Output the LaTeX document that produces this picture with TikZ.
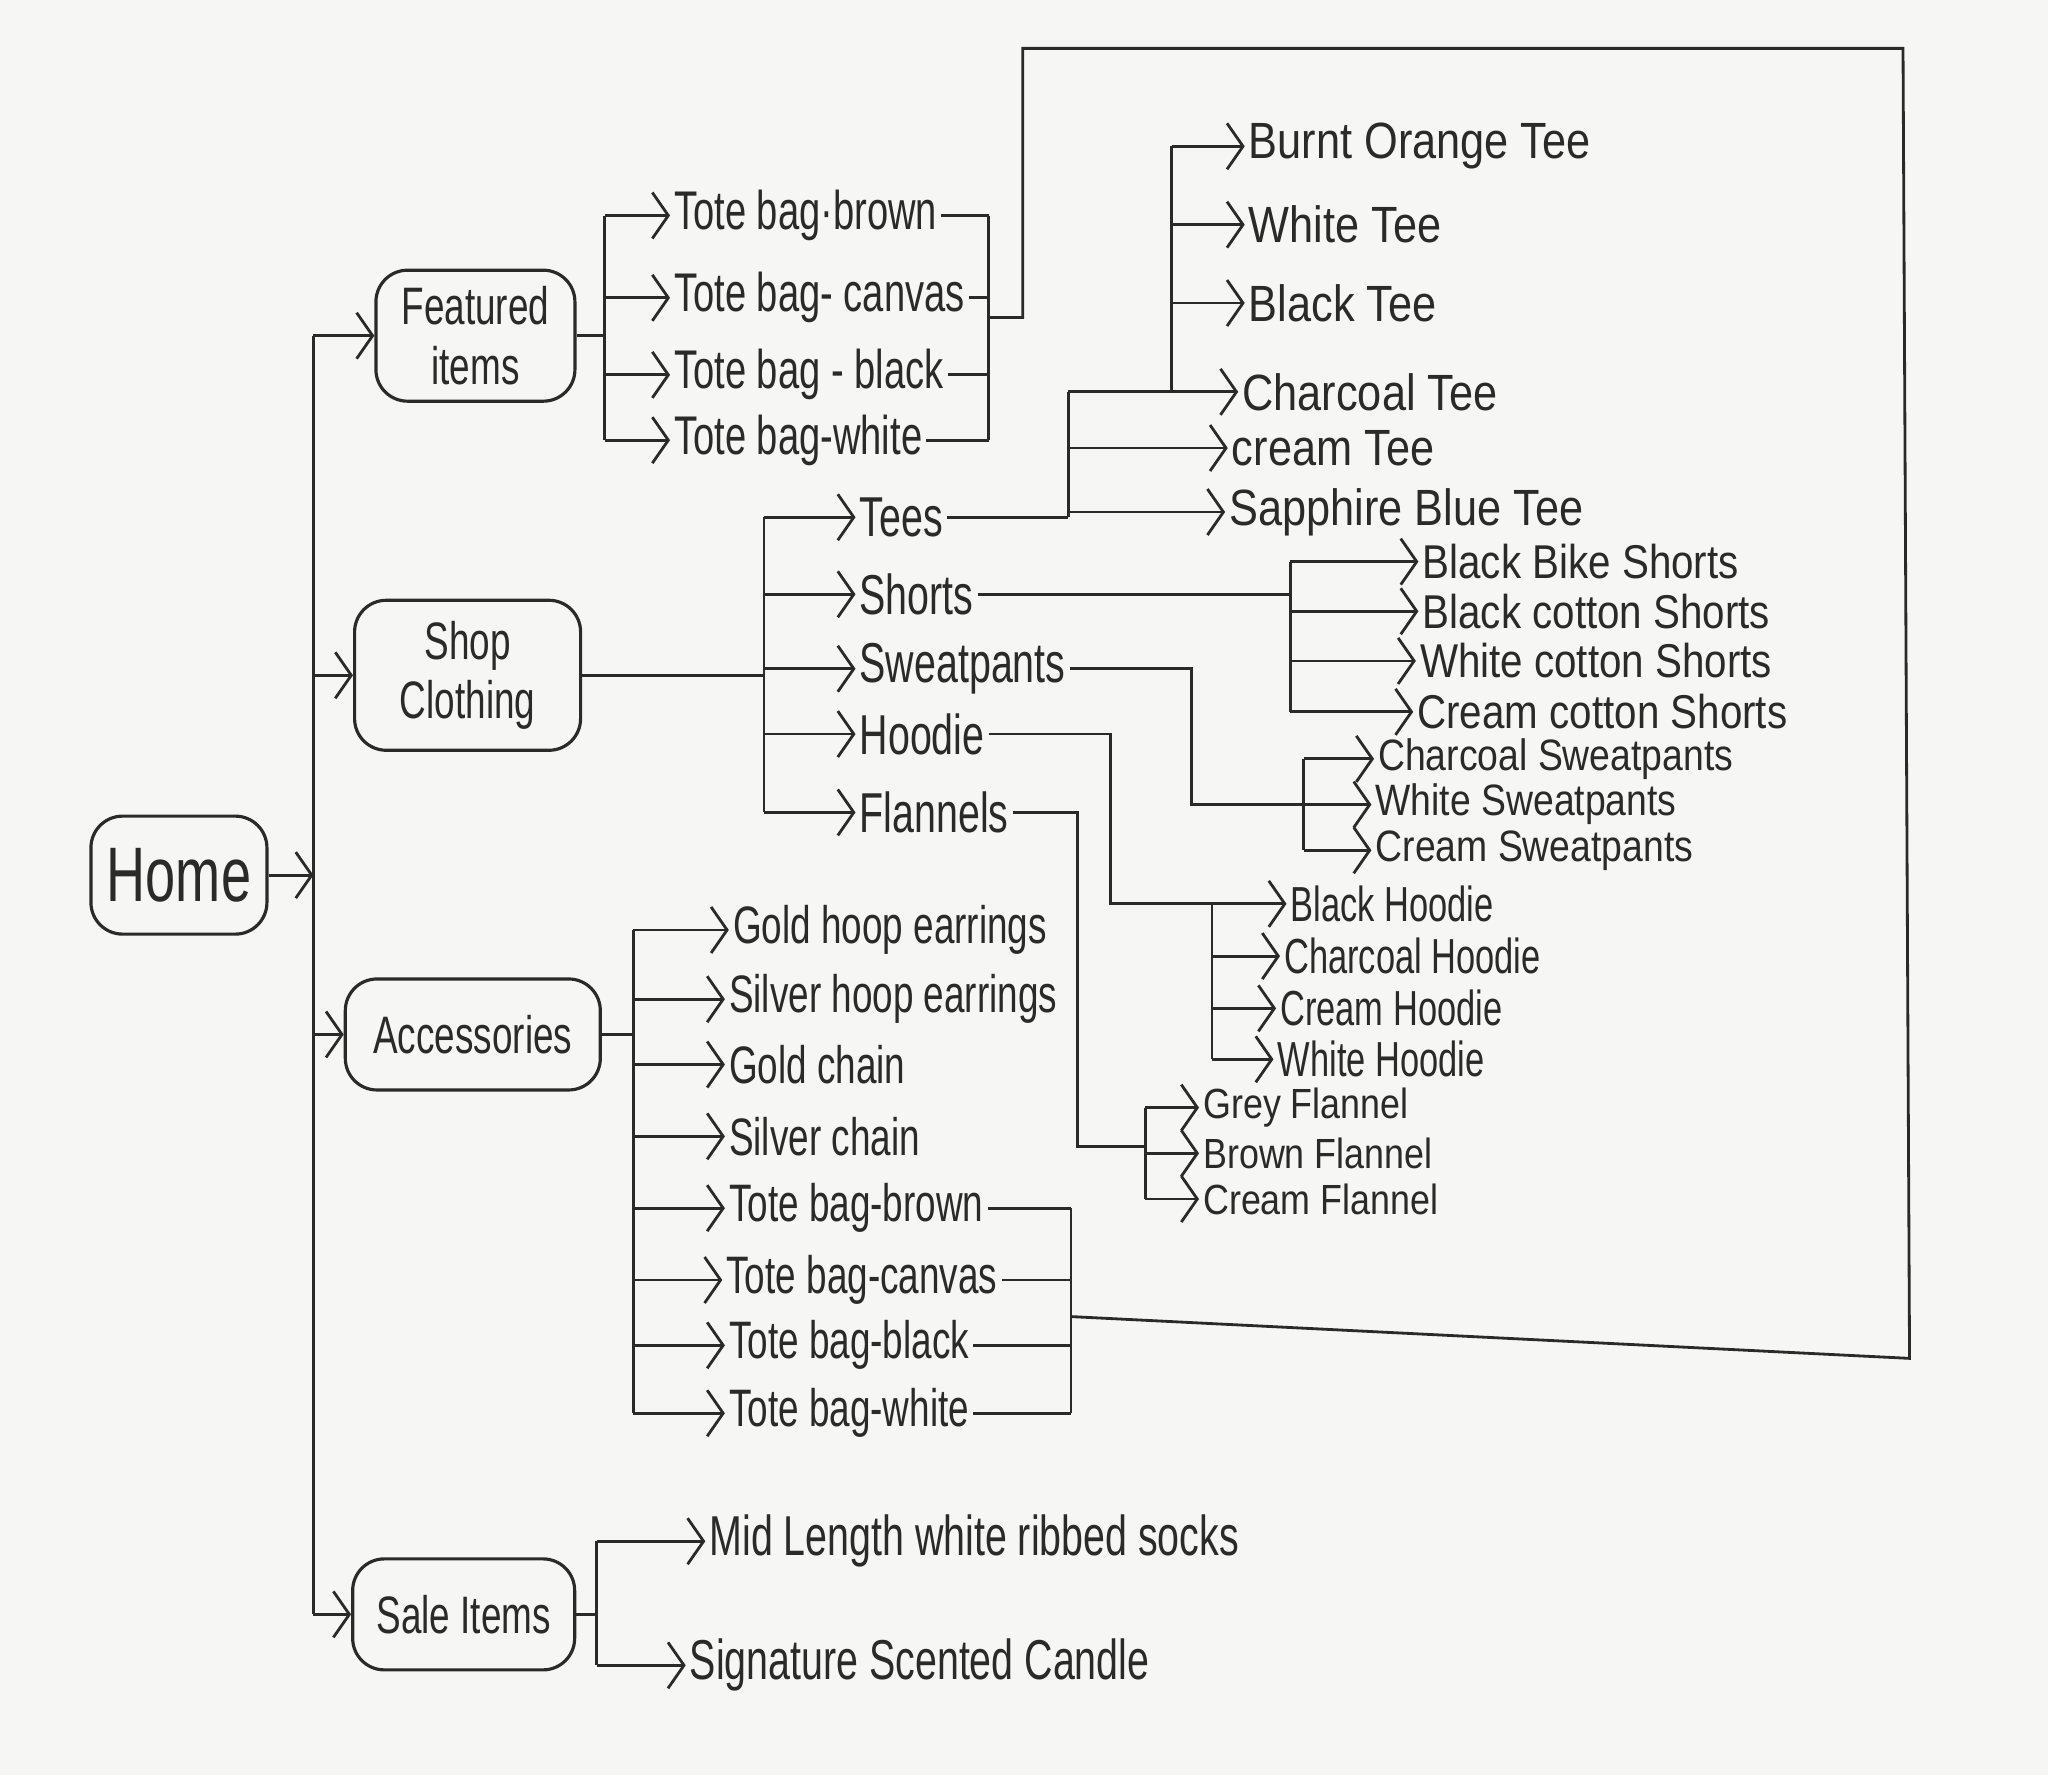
\documentclass[tikz,border=0pt]{standalone}
\usepackage{fontspec}
\setmainfont{Liberation Sans}[FakeStretch=0.7]
\newfontfamily\widehand{Liberation Sans}[FakeStretch=0.85]
\usetikzlibrary{arrows.meta, positioning}
\definecolor{pencil}{HTML}{2A2A2A}
\definecolor{paper}{HTML}{F6F6F4}

\begin{document}
\begin{tikzpicture}[
    x=0.013061cm, y=-0.013061cm,
    page/.style={draw=pencil, line width=0.9pt, rounded corners=9pt, align=center, text=pencil, font=\fontsize{15}{17}\selectfont},
    item/.style={anchor=west, inner sep=1pt, text=pencil, font=\fontsize{#1}{#1}\selectfont},
    item/.default=15.5,
    witem/.style={anchor=west, inner sep=1pt, text=pencil, font=\widehand\fontsize{#1}{#1}\selectfont},
    link/.style={draw=pencil, line width=0.8pt},
    arrow/.style={link, -{Straight Barb[length=1.6mm, width=4.6mm]}}
]
\fill[paper] (0,0) rectangle (1568,1359);

% pages
\node[page, minimum width=1.76cm, minimum height=1.18cm, font=\fontsize{22}{24}\selectfont] (home) at (137,670) {Home};
\node[page, minimum width=1.99cm, minimum height=1.31cm] (feat) at (364,257) {Featured\\items};
\node[page, minimum width=2.26cm, minimum height=1.50cm] (shop) at (358,517) {Shop\\Clothing};
\node[page, minimum width=2.55cm, minimum height=1.11cm] (acc) at (362,792) {Accessories};
\node[page, minimum width=2.22cm, minimum height=1.11cm] (sale) at (355,1236) {Sale Items};

% featured items
\node[item] (ftb1) at (513,165) {Tote bag·brown};
\node[item] (ftb2) at (513,228) {Tote bag- canvas};
\node[item] (ftb3) at (513,287) {Tote bag - black};
\node[item] (ftb4) at (513,337) {Tote bag-white};

% clothing
\node[item=16] (tees) at (655,396) {Tees};
\node[item=16] (shorts) at (655,455) {Shorts};
\node[item=16] (sweat) at (655,512) {Sweatpants};
\node[item=16] (hoodie) at (655,562) {Hoodie};
\node[item=16] (flan) at (655,622) {Flannels};

\node[witem=14.5] (burnt) at (953,112) {Burnt Orange Tee};
\node[witem=14.5] (whitet) at (953,172) {White Tee};
\node[witem=14.5] (blackt) at (953,232) {Black Tee};
\node[witem=14.5] (charc) at (948,300) {Charcoal Tee};
\node[witem=14.5] (creamt) at (940,343) {cream Tee};
\node[witem=14.5] (sapph) at (938,392) {Sapphire Blue Tee};

\node[witem=13.5] (bbike) at (1086,430) {Black Bike Shorts};
\node[witem=13.5] (bcot) at (1086,468) {Black cotton Shorts};
\node[witem=13.5] (wcot) at (1084,506) {White cotton Shorts};
\node[witem=13.5] (ccot) at (1082,545) {Cream cotton Shorts};

\node[witem=12.5] (csw) at (1052,581) {Charcoal Sweatpants};
\node[witem=12.5] (wsw) at (1050,616) {White Sweatpants};
\node[witem=12.5] (crsw) at (1050,651) {Cream Sweatpants};

\node[item=14] (bh) at (985,692) {Black Hoodie};
\node[item=14] (chh) at (980,732) {Charcoal Hoodie};
\node[item=14] (crh) at (977,772) {Cream Hoodie};
\node[item=14] (wh) at (975,811) {White Hoodie};

\node[witem=12] (gf) at (918,848) {Grey Flannel};
\node[witem=12] (bf) at (918,883) {Brown Flannel};
\node[witem=12] (cf) at (918,918) {Cream Flannel};

% accessories
\node[item=15] (a1) at (558,712) {Gold hoop earrings};
\node[item=15] (a2) at (555,765) {Silver hoop earrings};
\node[item=15] (a3) at (555,815) {Gold chain};
\node[item=15] (a4) at (555,870) {Silver chain};
\node[item=15] (a5) at (555,925) {Tote bag-brown};
\node[item=15] (a6) at (553,980) {Tote bag-canvas};
\node[item=15] (a7) at (555,1030) {Tote bag-black};
\node[item=15] (a8) at (555,1082) {Tote bag-white};

% sale items
\node[item=16] (socks) at (540,1180) {Mid Length white ribbed socks};
\node[item=16] (candle) at (525,1275) {Signature Scented Candle};

% joints
\coordinate (trunk) at (240,670);
\coordinate (fj) at (463,257);
\coordinate (fr) at (757,243);
\coordinate (sj) at (585,517);
\coordinate (tj1) at (818,396);
\coordinate (tj2) at (897,300);
\coordinate (shj) at (988,452);
\coordinate (swj) at (912,616);
\coordinate (swsp) at (998,616);
\coordinate (hj) at (850,692);
\coordinate (hsp) at (928,692);
\coordinate (flj) at (825,878);
\coordinate (flsp) at (877,878);
\coordinate (aj) at (485,792);
\coordinate (ar) at (820,1008);
\coordinate (salej) at (457,1236);
\coordinate (loopa) at (783,37);
\coordinate (loopb) at (1457,37);
\coordinate (loopc) at (1462,1040);

% home
\draw[arrow] (home.east) -- (trunk);
\draw[link] (trunk|-feat) -- (trunk|-sale);
\draw[arrow] (trunk|-feat.west) -- (feat.west);
\draw[arrow] (trunk|-shop.west) -- (shop.west);
\draw[arrow] (trunk|-acc.west) -- (acc.west);
\draw[arrow] (trunk|-sale.west) -- (sale.west);

% featured
\draw[link] (feat.east) -- (fj);
\draw[link] (fj|-ftb1) -- (fj|-ftb4);
\draw[arrow] (fj|-ftb1.west) -- (ftb1.west);
\draw[arrow] (fj|-ftb2.west) -- (ftb2.west);
\draw[arrow] (fj|-ftb3.west) -- (ftb3.west);
\draw[arrow] (fj|-ftb4.west) -- (ftb4.west);
\draw[link] (ftb1.east) -- (fr|-ftb1.east);
\draw[link] (ftb2.east) -- (fr|-ftb2.east);
\draw[link] (ftb3.east) -- (fr|-ftb3.east);
\draw[link] (ftb4.east) -- (fr|-ftb4.east);
\draw[link] (fr|-ftb1) -- (fr|-ftb4);

% tote bag loop
\draw[link] (fr) -| (loopa) -- (loopb) -- (loopc) -- (ar);

% clothing
\draw[link] (shop.east) -- (sj);
\draw[link] (sj|-tees) -- (sj|-flan);
\draw[arrow] (sj|-tees.west) -- (tees.west);
\draw[arrow] (sj|-shorts.west) -- (shorts.west);
\draw[arrow] (sj|-sweat.west) -- (sweat.west);
\draw[arrow] (sj|-hoodie.west) -- (hoodie.west);
\draw[arrow] (sj|-flan.west) -- (flan.west);

% tees
\draw[link] (tees.east) -- (tj1);
\draw[link] (tj1|-charc) -- (tj1);
\draw[link] (tj2|-burnt) -- (tj2);
\draw[arrow] (tj2|-burnt.west) -- (burnt.west);
\draw[arrow] (tj2|-whitet.west) -- (whitet.west);
\draw[arrow] (tj2|-blackt.west) -- (blackt.west);
\draw[arrow] (tj1|-charc.west) -- (charc.west);
\draw[arrow] (tj1|-creamt.west) -- (creamt.west);
\draw[arrow] (tj1|-sapph.west) -- (sapph.west);

% shorts
\draw[link] (shorts.east) -- (shj|-shorts.east);
\draw[link] (shj|-bbike) -- (shj|-ccot);
\draw[arrow] (shj|-bbike.west) -- (bbike.west);
\draw[arrow] (shj|-bcot.west) -- (bcot.west);
\draw[arrow] (shj|-wcot.west) -- (wcot.west);
\draw[arrow] (shj|-ccot.west) -- (ccot.west);

% sweatpants
\draw[arrow] (sweat.east) -| (swj) -- (wsw.west);
\draw[link] (swsp|-csw) -- (swsp|-crsw);
\draw[arrow] (swsp|-csw.west) -- (csw.west);
\draw[arrow] (swsp|-crsw.west) -- (crsw.west);

% hoodie
\draw[arrow] (hoodie.east) -| (hj) -- (bh.west);
\draw[link] (hsp) -- (hsp|-wh);
\draw[arrow] (hsp|-chh.west) -- (chh.west);
\draw[arrow] (hsp|-crh.west) -- (crh.west);
\draw[arrow] (hsp|-wh.west) -- (wh.west);

% flannels
\draw[link] (flan.east) -| (flj) -- (flsp);
\draw[link] (flsp|-gf) -- (flsp|-cf);
\draw[arrow] (flsp|-gf.west) -- (gf.west);
\draw[arrow] (flsp|-bf.west) -- (bf.west);
\draw[arrow] (flsp|-cf.west) -- (cf.west);

% accessories
\draw[link] (acc.east) -- (aj);
\draw[link] (aj|-a1) -- (aj|-a8);
\draw[arrow] (aj|-a1.west) -- (a1.west);
\draw[arrow] (aj|-a2.west) -- (a2.west);
\draw[arrow] (aj|-a3.west) -- (a3.west);
\draw[arrow] (aj|-a4.west) -- (a4.west);
\draw[arrow] (aj|-a5.west) -- (a5.west);
\draw[arrow] (aj|-a6.west) -- (a6.west);
\draw[arrow] (aj|-a7.west) -- (a7.west);
\draw[arrow] (aj|-a8.west) -- (a8.west);
\draw[link] (a5.east) -- (ar|-a5.east);
\draw[link] (a6.east) -- (ar|-a6.east);
\draw[link] (a7.east) -- (ar|-a7.east);
\draw[link] (a8.east) -- (ar|-a8.east);
\draw[link] (ar|-a5) -- (ar|-a8);

% sale
\draw[link] (sale.east) -- (salej);
\draw[link] (salej|-socks) -- (salej|-candle);
\draw[arrow] (salej|-socks.west) -- (socks.west);
\draw[arrow] (salej|-candle.west) -- (candle.west);
\end{tikzpicture}
\end{document}
